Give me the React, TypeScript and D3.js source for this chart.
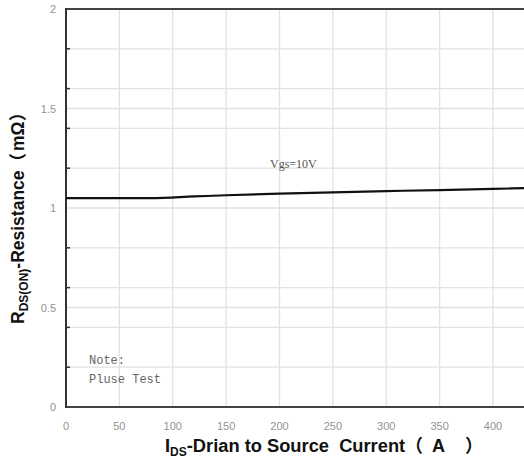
import React from "react";
import * as d3 from "d3";

const curveX = [0, 40, 80, 120, 150, 200, 250, 300, 350, 400, 430];
const curveY = [1.05, 1.05, 1.05, 1.058, 1.064, 1.072, 1.079, 1.085, 1.09, 1.096, 1.1];
const xTicks = [0, 50, 100, 150, 200, 250, 300, 350, 400];
const yLabels = [0, 0.5, 1, 1.5, 2];
const yMinor = [0.2, 0.4, 0.6, 0.8, 1.2, 1.4, 1.6, 1.8];

const LAT_FONT = "'Liberation Sans', Arial, sans-serif";
const CJK_FONT = "'Noto Sans CJK SC', sans-serif";

export default function App() {
  const W = 524, H = 465;
  const x = d3.scaleLinear().domain([0, 430]).range([66, 525]);
  const y = d3.scaleLinear().domain([0, 2]).range([407, 9]);
  const pts = curveX.map((v, i) => [v, curveY[i]] as [number, number]);
  const line = d3.line<[number, number]>().x(d => x(d[0])).y(d => y(d[1])).curve(d3.curveMonotoneX);
  const gridYs = Array.from(new Set([...yMinor, ...yLabels])).filter(v => v > 0 && v < 2);
  return (
    <svg width={W} height={H} style={{ position: "absolute", left: 0, top: 0, background: "#fff" }}>
      <rect width={W} height={H} fill="#fff" />
      {xTicks.filter(t => t > 0).map(t => (
        <line key={"gx" + t} x1={x(t)} x2={x(t)} y1={y(2)} y2={y(0)} stroke="#e2e2e2" strokeWidth={1.3} />
      ))}
      {gridYs.map(t => (
        <line key={"gy" + t} x1={x(0)} x2={W} y1={y(t)} y2={y(t)} stroke="#e2e2e2" strokeWidth={1.3} />
      ))}
      {yMinor.map(t => (
        <line key={"mt" + t} x1={x(0)} x2={x(0) + 4} y1={y(t)} y2={y(t)} stroke="#333" strokeWidth={1.5} />
      ))}
      <line x1={x(0)} x2={W} y1={y(2)} y2={y(2)} stroke="#444" strokeWidth={2} />
      <line x1={x(0)} x2={W} y1={y(0)} y2={y(0)} stroke="#444" strokeWidth={2} />
      <line x1={x(0)} x2={x(0)} y1={y(2) - 1} y2={y(0) + 1} stroke="#333" strokeWidth={2} />
      <path d={line(pts) || ""} fill="none" stroke="#111" strokeWidth={2.2} />
      {xTicks.map(t => (
        <text key={"xl" + t} x={x(t)} y={430} textAnchor="middle" fontFamily={LAT_FONT} fontSize={11} fill="#939393">{t}</text>
      ))}
      {yLabels.map(t => (
        <text key={"yl" + t} x={56} y={y(t) + 4} textAnchor="end" fontFamily={LAT_FONT} fontSize={11} fill="#939393">{t}</text>
      ))}
      <text x={270} y={168} fontFamily="Liberation Serif, serif" fontSize={12} fill="#555">Vgs=10V</text>
      <text x={89} y={364} fontFamily="Liberation Mono, monospace" fontSize={12} fill="#666">Note:</text>
      <text x={89} y={383} fontFamily="Liberation Mono, monospace" fontSize={12} fill="#666">Pluse Test</text>
      <text x={165} y={452} fontFamily={LAT_FONT} fontSize={18.3} fontWeight="bold" fill="#111" style={{ whiteSpace: "pre" }}>
        <tspan>I</tspan><tspan fontSize={12} dy={4}>DS</tspan><tspan dy={-4}>{"-Drian to Source  Current"}</tspan>
      </text>
      <text y={452} fontFamily={CJK_FONT} fontSize={18} fontWeight="bold" fill="#111">
        <tspan x={405}>（</tspan><tspan x={432} fontFamily={LAT_FONT}>A</tspan><tspan x={465}>）</tspan>
      </text>
      <text transform={`translate(24, 324) rotate(-90)`} fontFamily={LAT_FONT} fontSize={17.5} fontWeight="bold" fill="#111">
        <tspan>R</tspan><tspan fontSize={12} dy={4}>DS(ON)</tspan><tspan dy={-4}>-Resistance</tspan>
        <tspan fontFamily={CJK_FONT} letterSpacing={2}>（</tspan><tspan>mΩ</tspan><tspan fontFamily={CJK_FONT}>）</tspan>
      </text>
    </svg>
  );
}
